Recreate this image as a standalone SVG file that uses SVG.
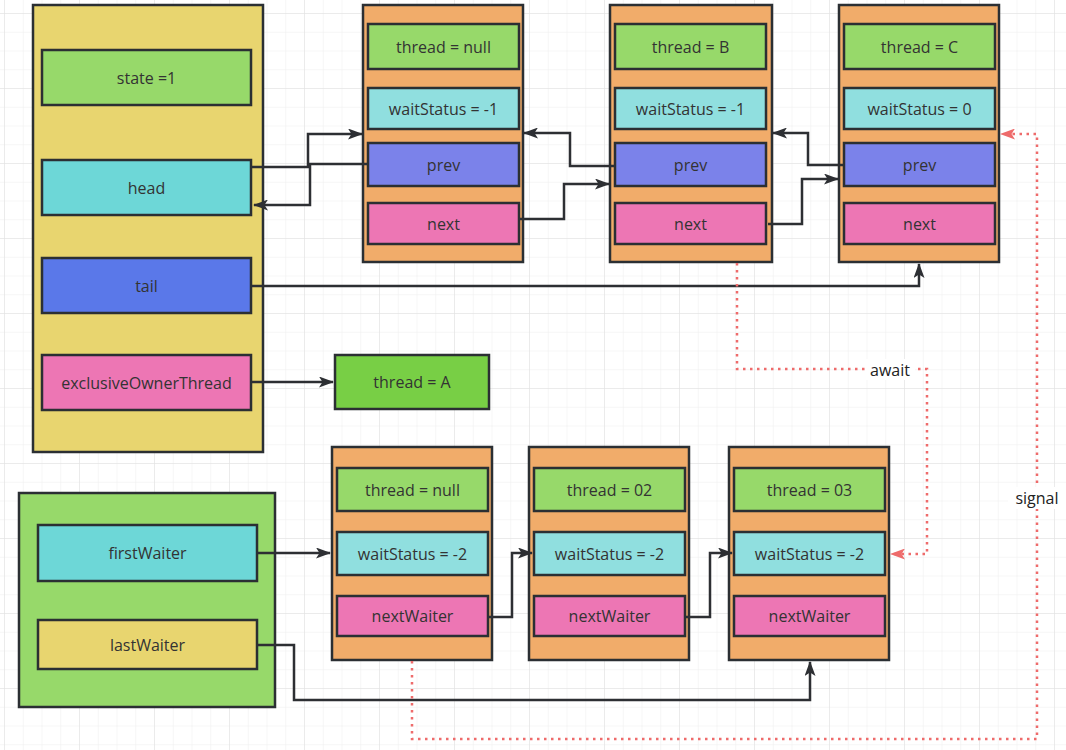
<svg xmlns="http://www.w3.org/2000/svg" width="1066" height="750" viewBox="0 0 1066 750">
<defs>
<pattern id="minor" x="4" y="13" width="18.75" height="18.75" patternUnits="userSpaceOnUse">
<path d="M0,0 V18.75 M0,0 H18.75" stroke="#eeeeee" stroke-width="1" fill="none"/>
</pattern>
<pattern id="major" x="4" y="13" width="75" height="75" patternUnits="userSpaceOnUse">
<path d="M0,0 V75 M0,0 H75" stroke="#e0e0e0" stroke-width="1" fill="none"/>
</pattern>
<marker id="ah" viewBox="0 0 15 11" refX="14" refY="5.5" markerWidth="15" markerHeight="11" markerUnits="userSpaceOnUse" orient="auto">
<path d="M0,0 L15,5.5 L0,11 L3.5,5.5 Z" fill="#2d2f33"/>
</marker>
<marker id="ahr" viewBox="0 0 15 11" refX="14" refY="5.5" markerWidth="15" markerHeight="11" markerUnits="userSpaceOnUse" orient="auto">
<path d="M0,0 L15,5.5 L0,11 L3.5,5.5 Z" fill="#ee6b6b"/>
</marker>
</defs>
<style>
.box{stroke:#2b2f33;stroke-width:2.5}
.t{font-family:"Open Sans","Noto Sans","Liberation Sans",sans-serif;font-size:16px;fill:#333;text-anchor:middle;dominant-baseline:central}
.c{fill:none;stroke:#2d2f33;stroke-width:2.5;marker-end:url(#ah)}
.r{fill:none;stroke:#ee6b6b;stroke-width:2.5;stroke-dasharray:2.5 4.5;marker-end:url(#ahr)}
.orange{fill:#f1ac6a}
.green{fill:#97d96a}
.cyan{fill:#6dd7d7}
.lcyan{fill:#90dfdf}
.blue{fill:#5a78e9}
.purple{fill:#7b82ea}
.pink{fill:#ed76b4}
.yellow{fill:#e8d56f}
.lbl{font-family:"Open Sans","Noto Sans","Liberation Sans",sans-serif;font-size:16px;fill:#222;text-anchor:middle;dominant-baseline:central}
</style>
<rect width="1066" height="750" fill="#ffffff"/>
<rect width="1066" height="750" fill="url(#minor)"/>
<rect width="1066" height="750" fill="url(#major)"/>

<g id="lock">
<rect class="box yellow" x="33" y="5" width="230" height="447"/>
<rect class="box green" x="42" y="50" width="209" height="55"/><text class="t" x="146.5" y="77.5">state =1</text>
<rect class="box cyan" x="42" y="160" width="209" height="55"/><text class="t" x="146.5" y="187.5">head</text>
<rect class="box blue" x="42" y="258" width="209" height="55"/><text class="t" x="146.5" y="285.5">tail</text>
<rect class="box pink" x="42" y="355" width="209" height="55"/><text class="t" x="146.5" y="382.5">exclusiveOwnerThread</text>
</g>

<g id="node1">
<rect class="box orange" x="363" y="5" width="160" height="257"/>
<rect class="box green" x="368" y="24" width="151" height="45"/><text class="t" x="443.5" y="46.5">thread = null</text>
<rect class="box lcyan" x="368" y="88" width="151" height="41"/><text class="t" x="443.5" y="108.5">waitStatus = -1</text>
<rect class="box purple" x="368" y="143" width="151" height="43"/><text class="t" x="443.5" y="164.5">prev</text>
<rect class="box pink" x="368" y="203" width="151" height="41"/><text class="t" x="443.5" y="223.5">next</text>
</g>

<g id="node2">
<rect class="box orange" x="610" y="5" width="162" height="257"/>
<rect class="box green" x="615" y="24" width="151" height="45"/><text class="t" x="690.5" y="46.5">thread = B</text>
<rect class="box lcyan" x="615" y="88" width="151" height="41"/><text class="t" x="690.5" y="108.5">waitStatus = -1</text>
<rect class="box purple" x="615" y="143" width="151" height="43"/><text class="t" x="690.5" y="164.5">prev</text>
<rect class="box pink" x="615" y="203" width="151" height="41"/><text class="t" x="690.5" y="223.5">next</text>
</g>

<g id="node3">
<rect class="box orange" x="839" y="5" width="160" height="257"/>
<rect class="box green" x="844" y="24" width="151" height="45"/><text class="t" x="919.5" y="46.5">thread = C</text>
<rect class="box lcyan" x="844" y="88" width="151" height="41"/><text class="t" x="919.5" y="108.5">waitStatus = 0</text>
<rect class="box purple" x="844" y="143" width="151" height="43"/><text class="t" x="919.5" y="164.5">prev</text>
<rect class="box pink" x="844" y="203" width="151" height="41"/><text class="t" x="919.5" y="223.5">next</text>
</g>

<g id="threadA">
<rect class="box" fill="#78cf45" x="335" y="355" width="154" height="54"/><text class="t" x="412" y="382">thread = A</text>
</g>

<g id="condition">
<rect class="box green" x="19" y="493" width="256" height="214"/>
<rect class="box cyan" x="38" y="525" width="219" height="56"/><text class="t" x="147.5" y="553">firstWaiter</text>
<rect class="box yellow" x="38" y="620" width="219" height="49"/><text class="t" x="147.5" y="644.5">lastWaiter</text>
</g>

<g id="waiter1">
<rect class="box orange" x="332" y="447" width="160" height="213"/>
<rect class="box green" x="337" y="468" width="151" height="43"/><text class="t" x="412.5" y="489.5">thread = null</text>
<rect class="box lcyan" x="337" y="532" width="151" height="43"/><text class="t" x="412.5" y="553.5">waitStatus = -2</text>
<rect class="box pink" x="337" y="596" width="151" height="40"/><text class="t" x="412.5" y="616">nextWaiter</text>
</g>

<g id="waiter2">
<rect class="box orange" x="529" y="447" width="160" height="213"/>
<rect class="box green" x="534" y="468" width="151" height="43"/><text class="t" x="609.5" y="489.5">thread = 02</text>
<rect class="box lcyan" x="534" y="532" width="151" height="43"/><text class="t" x="609.5" y="553.5">waitStatus = -2</text>
<rect class="box pink" x="534" y="596" width="151" height="40"/><text class="t" x="609.5" y="616">nextWaiter</text>
</g>

<g id="waiter3">
<rect class="box orange" x="729" y="447" width="160" height="213"/>
<rect class="box green" x="734" y="468" width="151" height="43"/><text class="t" x="809.5" y="489.5">thread = 03</text>
<rect class="box lcyan" x="734" y="532" width="151" height="43"/><text class="t" x="809.5" y="553.5">waitStatus = -2</text>
<rect class="box pink" x="734" y="596" width="151" height="40"/><text class="t" x="809.5" y="616">nextWaiter</text>
</g>

<g id="connectors">
<path class="c" d="M252,167 H308 V134 H362"/>
<path class="c" d="M367,164 H310 V205 H254"/>
<path class="c" d="M614,166 H570 V133 H524"/>
<path class="c" d="M520,219 H564 V184 H609"/>
<path class="c" d="M843,165 H808 V133 H773"/>
<path class="c" d="M768,224 H802 V179 H838"/>
<path class="c" d="M252,286 H919 V264"/>
<path class="c" d="M252,382 H333"/>
<path class="c" d="M258,553 H330"/>
<path class="c" d="M489,617 H512 V553 H532"/>
<path class="c" d="M686,617 H710 V553 H732"/>
<path class="c" d="M258,645 H294 V700 H810 V662"/>
<path class="r" d="M737,263 V369 H927 V554 H891"/>
<path class="r" d="M412,661 V739 H1037 V134 H1001"/>
<rect x="865" y="359" width="50" height="21" fill="#ffffff"/>
<text class="lbl" x="890" y="369.5">await</text>
<rect x="1008" y="487" width="58" height="22" fill="#ffffff"/>
<text class="lbl" x="1037" y="498">signal</text>
</g>
</svg>
